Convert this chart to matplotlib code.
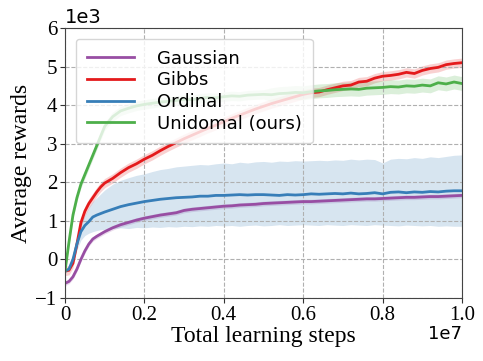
import numpy as np
import matplotlib
matplotlib.use("Agg")
import matplotlib.pyplot as plt

# x in units of 1e7 steps, y in units of 1e3 reward
steps = [0, 0.01, 0.02, 0.03, 0.04, 0.05, 0.06, 0.07, 0.08, 0.09, 0.10] + \
        [round(0.12 + 0.02 * i, 2) for i in range(45)]

gaussian = [-0.62, -0.57, -0.45, -0.25, 0.0, 0.22, 0.4, 0.53, 0.6, 0.66, 0.72,
            0.82, 0.9, 0.96, 1.02, 1.07, 1.11, 1.15, 1.18, 1.21, 1.27, 1.3, 1.32, 1.34, 1.36,
            1.38, 1.39, 1.41, 1.42, 1.43, 1.45, 1.46, 1.47, 1.48, 1.49, 1.5, 1.5, 1.51, 1.52,
            1.53, 1.54, 1.55, 1.56, 1.57, 1.57, 1.58, 1.59, 1.6, 1.61, 1.61, 1.62, 1.63, 1.63,
            1.64, 1.65, 1.66]
gibbs = [-0.3, -0.28, -0.1, 0.4, 0.95, 1.25, 1.45, 1.6, 1.75, 1.88, 1.98,
         2.1, 2.25, 2.38, 2.48, 2.6, 2.7, 2.82, 2.93, 3.03, 3.13, 3.22, 3.31, 3.4, 3.48,
         3.57, 3.66, 3.74, 3.82, 3.9, 3.97, 4.04, 4.1, 4.16, 4.22, 4.28, 4.32, 4.34, 4.4,
         4.45, 4.5, 4.52, 4.6, 4.62, 4.7, 4.75, 4.77, 4.8, 4.85, 4.82, 4.9, 4.95, 4.98,
         5.05, 5.08, 5.1]
ordinal = [-0.3, -0.25, 0.0, 0.4, 0.72, 0.88, 0.98, 1.1, 1.15, 1.19, 1.23,
           1.3, 1.37, 1.42, 1.46, 1.5, 1.53, 1.56, 1.58, 1.6, 1.61, 1.62, 1.64, 1.64, 1.66,
           1.66, 1.67, 1.68, 1.67, 1.68, 1.68, 1.67, 1.66, 1.68, 1.67, 1.68, 1.7, 1.69, 1.7,
           1.71, 1.7, 1.72, 1.7, 1.71, 1.73, 1.7, 1.74, 1.75, 1.73, 1.75, 1.74, 1.76, 1.75,
           1.77, 1.78, 1.78]
ordinal_hi = [-0.25, -0.2, 0.1, 0.55, 0.95, 1.15, 1.35, 1.5, 1.6, 1.7, 1.8,
              1.95, 2.05, 2.12, 2.18, 2.22, 2.28, 2.33, 2.36, 2.4, 2.42, 2.44, 2.46, 2.45, 2.48,
              2.5, 2.48, 2.52, 2.5, 2.53, 2.54, 2.52, 2.55, 2.54, 2.56, 2.55, 2.56, 2.57, 2.56,
              2.58, 2.57, 2.6, 2.58, 2.6, 2.59, 2.5, 2.6, 2.62, 2.61, 2.64, 2.62, 2.66, 2.64,
              2.67, 2.7, 2.71]
ordinal_lo = [-0.35, -0.3, -0.1, 0.25, 0.5, 0.62, 0.68, 0.72, 0.75, 0.77, 0.78,
              0.8, 0.82, 0.8, 0.83, 0.82, 0.84, 0.83, 0.85, 0.84, 0.86, 0.85, 0.87, 0.86, 0.88,
              0.87, 0.88, 0.86, 0.88, 0.89, 0.87, 0.88, 0.9, 0.88, 0.89, 0.9, 0.89, 0.88, 0.9,
              0.89, 0.88, 0.9, 0.89, 0.88, 0.9, 0.89, 0.88, 0.87, 0.89, 0.88, 0.87, 0.88, 0.86,
              0.87, 0.86, 0.86]
unimodal = [-0.3, 0.45, 1.15, 1.6, 1.95, 2.2, 2.45, 2.7, 2.95, 3.2, 3.45,
            3.7, 3.85, 3.92, 3.98, 4.02, 4.05, 4.08, 4.1, 4.12, 4.15, 4.14, 4.18, 4.2, 4.19,
            4.22, 4.24, 4.23, 4.26, 4.27, 4.28, 4.27, 4.3, 4.31, 4.33, 4.32, 4.35, 4.37, 4.38,
            4.4, 4.41, 4.42, 4.41, 4.44, 4.45, 4.46, 4.48, 4.47, 4.5, 4.49, 4.52, 4.5, 4.58,
            4.55, 4.6, 4.56]

band_gauss = 0.06
band_gibbs = 0.12
band_uni = [0.1] * 11 + [0.12] * 20 + [0.18] * 25

names = ["Gaussian", "Gibbs", "Ordinal", "Unidomal (ours)"]
colors = ["#984ea3", "#e41a1c", "#377eb8", "#4daf4a"]

x = np.array(steps)
fig = plt.figure(figsize=(4.83, 3.61), dpi=100)
ax = fig.add_axes([0.1346, 0.1745, 0.8219, 0.7479])

g = np.array(gaussian)
ax.fill_between(x, g - band_gauss, g + band_gauss, color=colors[0], alpha=0.2, lw=0)
ax.plot(x, g, color=colors[0], lw=2, label=names[0])

r = np.array(gibbs)
ax.fill_between(x, r - band_gibbs, r + band_gibbs, color=colors[1], alpha=0.2, lw=0)
ax.plot(x, r, color=colors[1], lw=2, label=names[1])

ax.fill_between(x, ordinal_lo, ordinal_hi, color=colors[2], alpha=0.2, lw=0)
ax.plot(x, ordinal, color=colors[2], lw=2, label=names[2])

u = np.array(unimodal)
bu = np.array(band_uni)
ax.fill_between(x, u - bu, u + bu, color=colors[3], alpha=0.2, lw=0)
ax.plot(x, u, color=colors[3], lw=2, label=names[3])

ax.set_xlim(0, 1.0)
ax.set_ylim(-1, 6)
ax.set_xticks([0, 0.2, 0.4, 0.6, 0.8, 1.0])
ax.set_xticklabels(["0", "0.2", "0.4", "0.6", "0.8", "1.0"])
ax.set_yticks(range(-1, 7))
ax.set_yticklabels(["\u22121", "0", "1", "2", "3", "4", "5", "6"])
for lab in ax.get_xticklabels() + ax.get_yticklabels():
    lab.set_family("Liberation Serif")
    lab.set_fontsize(15)
ax.tick_params(length=3.5, width=0.8, pad=2, colors="#333333", labelcolor="black")
ax.grid(True, ls="--", color="#b0b0b0", lw=0.8)
for s in ax.spines.values():
    s.set_color("#444444")

ax.set_xlabel("Total learning steps", family="Liberation Serif", fontsize=17, labelpad=1)
ax.set_ylabel("Average rewards", family="Liberation Serif", fontsize=17, labelpad=2)
ax.text(0.0, 1.005, "1e3", transform=ax.transAxes, fontsize=14, family="DejaVu Sans",
        ha="left", va="bottom")
ax.text(1.0, -0.1, "1e7", transform=ax.transAxes, fontsize=13, family="DejaVu Sans",
        ha="right", va="top")

ax.legend(loc="upper left", prop={"family": "DejaVu Sans", "size": 13},
          handlelength=2.6, handletextpad=1.3, framealpha=0.8, borderaxespad=0.6,
          borderpad=0.6, labelspacing=0.2)

fig.savefig("out.png", dpi=100)
